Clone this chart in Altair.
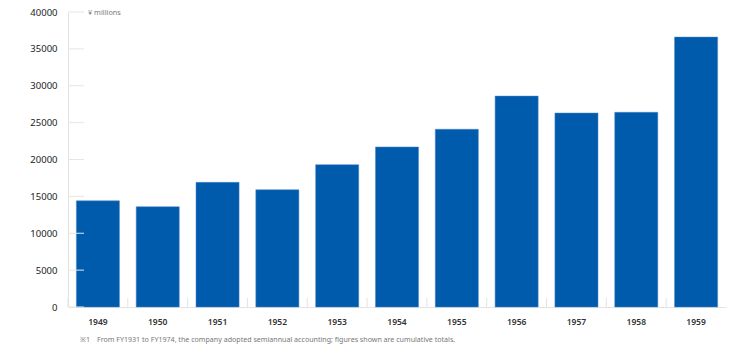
import altair as alt
import pandas as pd

years = ["1949", "1950", "1951", "1952", "1953", "1954", "1955", "1956", "1957", "1958", "1959"]
values = [14400, 13600, 16900, 15900, 19300, 21700, 24100, 28600, 26300, 26400, 36600]
y_ticks = [0, 5000, 10000, 15000, 20000, 25000, 30000, 35000, 40000]
unit_label = "¥ millions"
footnote = "※1\u3000From FY1931 to FY1974, the company adopted semiannual accounting; figures shown are cumulative totals."

W, H = 658, 295
FONT = "Noto Sans"

df = pd.DataFrame({"year": years, "value": values})
tick_df = pd.DataFrame({"t": y_ticks})

xscale = alt.Scale(domain=years, paddingInner=0.28, paddingOuter=0.14)
yscale = alt.Scale(domain=[0, 40000])

x_axis = alt.Axis(title=None, labelAngle=0, labelFontSize=8.5, labelFontWeight=600,
                  labelColor="#333", labelFont=FONT, labelPadding=10, bandPosition=0.5,
                  ticks=False, domainColor="#e3e3e3", domainWidth=1)
y_axis = alt.Axis(title=None, values=y_ticks, labelFontSize=9.5, labelColor="#222",
                  labelFont=FONT, labelPadding=11, ticks=False, grid=False,
                  labelOverlap=False, domainColor="#e3e3e3", format="d")

bars = alt.Chart(df).mark_bar(color="#005BAC", stroke="#4a86c8", strokeWidth=0.5).encode(
    x=alt.X("year:N", scale=xscale, sort=years, axis=x_axis),
    y=alt.Y("value:Q", scale=yscale, axis=y_axis),
)

xticks = alt.Chart(df).mark_rule(color="#e3e3e3", xOffset=-8.4).encode(
    x=alt.X("year:N", scale=xscale, sort=years, bandPosition=0, axis=x_axis),
    y=alt.value(H - 9), y2=alt.value(H),
)

yticks = alt.Chart(tick_df).mark_rule(color="#e6e6e6").encode(
    y=alt.Y("t:Q", scale=yscale, axis=y_axis),
    x=alt.value(0), x2=alt.value(16),
)

unit = alt.Chart(pd.DataFrame({"t": [unit_label]})).mark_text(
    align="left", baseline="middle", fontSize=7.3, color="#777", font=FONT
).encode(x=alt.value(20), y=alt.value(1), text="t:N")

note = alt.Chart(pd.DataFrame({"t": [footnote]})).mark_text(
    align="left", baseline="middle", fontSize=7.1, color="#777", font=FONT
).encode(x=alt.value(12), y=alt.value(H + 33), text="t:N")

chart = alt.layer(bars, yticks, xticks, unit, note).properties(
    width=W, height=H,
    background="white",
    autosize=alt.AutoSizeParams(type="none"),
    padding={"left": 68, "top": 12, "right": 24, "bottom": 40},
).configure_view(stroke=None)

chart.save("out.html", embed_options={"renderer": "svg", "actions": False})
